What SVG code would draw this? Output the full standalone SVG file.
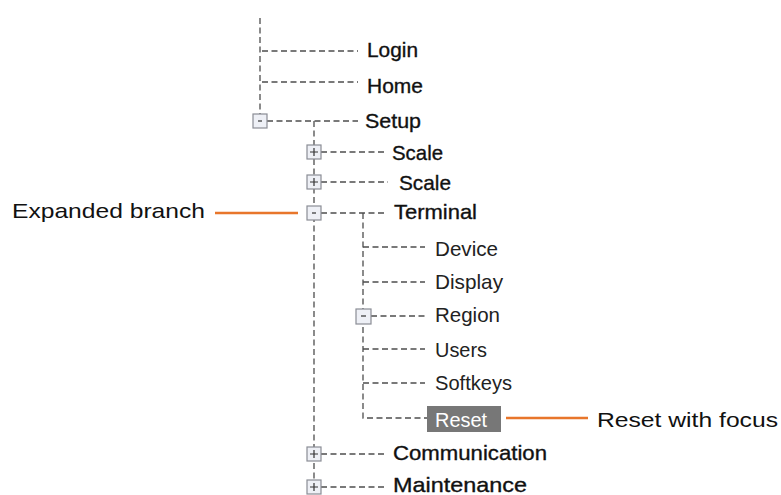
<svg xmlns="http://www.w3.org/2000/svg" width="781" height="495" viewBox="0 0 781 495">
<style>
.t{font-family:"Liberation Sans",Arial,sans-serif;font-size:21px;fill:#111}
.b{stroke:#111;stroke-width:0.35}
.s{fill:#222}
.w{fill:#fff}
.d{stroke:#4d4d4d;stroke-width:1.3;stroke-dasharray:6 3.5;fill:none}
.o{stroke:#e8762b;stroke-width:2.5}
.bx{fill:#eef0f6;stroke:#8a8d95;stroke-width:1.2}
.sg{stroke:#333;stroke-width:1.2}
</style>
<g id="connectors">
<path class="d" d="M260 18V115"/>
<path class="d" d="M262 51H358"/>
<path class="d" d="M262 82H358"/>
<path class="d" d="M267 121H358"/>
<path class="d" d="M314 121V480"/>
<path class="d" d="M321 152H385"/>
<path class="d" d="M321 182H388"/>
<path class="d" d="M321 213H385"/>
<path class="d" d="M363 213V418H427"/>
<path class="d" d="M363 247H425"/>
<path class="d" d="M363 282H425"/>
<path class="d" d="M371 316H425"/>
<path class="d" d="M363 349H425"/>
<path class="d" d="M363 383H425"/>
<path class="d" d="M321 454H385"/>
<path class="d" d="M321 487H385"/>
<line class="o" x1="215" y1="213" x2="298" y2="213"/>
<line class="o" x1="506" y1="418" x2="588" y2="418"/>
</g>
<g id="login"><text class="t b" x="367" y="57" textLength="51" lengthAdjust="spacingAndGlyphs">Login</text></g>
<g id="home"><text class="t b" x="367" y="93" textLength="56" lengthAdjust="spacingAndGlyphs">Home</text></g>
<g id="setup"><rect class="bx" x="253" y="114" width="14" height="14"/><line class="sg" x1="258" y1="121" x2="262" y2="121"/><text class="t b" x="365" y="128" textLength="56" lengthAdjust="spacingAndGlyphs">Setup</text></g>
<g id="scale1"><rect class="bx" x="307" y="145" width="14" height="14"/><path class="sg" d="M310 152H318M314 148V156"/><text class="t b" x="392" y="160" textLength="51" lengthAdjust="spacingAndGlyphs">Scale</text></g>
<g id="scale2"><rect class="bx" x="307" y="175" width="14" height="14"/><path class="sg" d="M310 182H318M314 178V186"/><text class="t b" x="399" y="190" textLength="52" lengthAdjust="spacingAndGlyphs">Scale</text></g>
<g id="terminal"><rect class="bx" x="307" y="206" width="14" height="14"/><line class="sg" x1="312" y1="213" x2="316" y2="213"/><text class="t b" x="394" y="219" textLength="83" lengthAdjust="spacingAndGlyphs">Terminal</text></g>
<g id="device"><text class="t s" x="435" y="256" textLength="63" lengthAdjust="spacingAndGlyphs">Device</text></g>
<g id="display"><text class="t s" x="435" y="289" textLength="68" lengthAdjust="spacingAndGlyphs">Display</text></g>
<g id="region"><rect class="bx" x="356" y="309" width="15" height="15"/><line class="sg" x1="361" y1="316" x2="366" y2="316"/><text class="t s" x="435" y="322" textLength="65" lengthAdjust="spacingAndGlyphs">Region</text></g>
<g id="users"><text class="t s" x="435" y="357" textLength="52" lengthAdjust="spacingAndGlyphs">Users</text></g>
<g id="softkeys"><text class="t s" x="435" y="390" textLength="77" lengthAdjust="spacingAndGlyphs">Softkeys</text></g>
<g id="reset"><rect x="427" y="406" width="74" height="26" fill="#777"/><text class="t w" x="435" y="427" textLength="52" lengthAdjust="spacingAndGlyphs">Reset</text></g>
<g id="communication"><rect class="bx" x="307" y="447" width="14" height="14"/><path class="sg" d="M310 454H318M314 450V458"/><text class="t b" x="393" y="460" textLength="154" lengthAdjust="spacingAndGlyphs">Communication</text></g>
<g id="maintenance"><rect class="bx" x="307" y="480" width="14" height="14"/><path class="sg" d="M310 487H318M314 483V491"/><text class="t b" x="393" y="492" textLength="134" lengthAdjust="spacingAndGlyphs">Maintenance</text></g>
<g id="expanded-label"><text class="t" x="12" y="218" textLength="193" lengthAdjust="spacingAndGlyphs">Expanded branch</text></g>
<g id="focus-label"><text class="t" x="597" y="427" textLength="181" lengthAdjust="spacingAndGlyphs">Reset with focus</text></g>
</svg>
